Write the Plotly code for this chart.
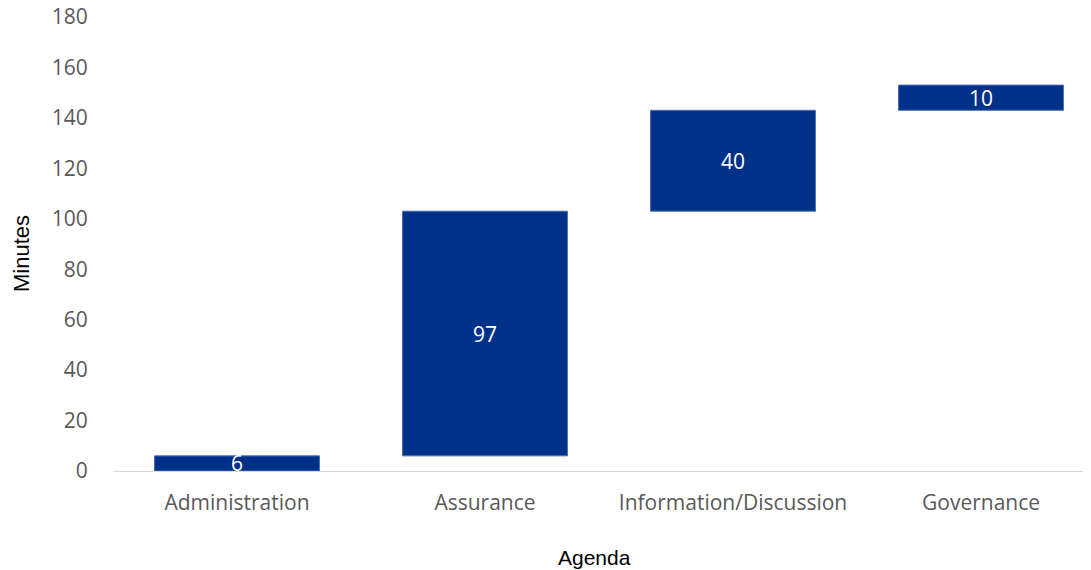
import plotly.graph_objects as go

categories = ["Administration", "Assurance", "Information/Discussion", "Governance"]
minutes = [6, 97, 40, 10]
y_ticks = [0, 20, 40, 60, 80, 100, 120, 140, 160, 180]

bar_color = "#003189"
edge_color = "#4a6fb8"

# page body has an 8px offset; plot area placed accordingly
PW = 1091 - 105

fig = go.Figure(go.Waterfall(
    x=categories,
    y=minutes,
    measure=["relative"] * len(minutes),
    text=[str(v) for v in minutes],
    textposition="inside",
    insidetextanchor="middle",
    textangle=0,
    constraintext="none",
    textfont=dict(color="white", size=21, family="Open Sans"),
    increasing=dict(marker=dict(color=bar_color, line=dict(color=edge_color, width=1))),
    connector=dict(visible=False),
    width=0.665,
    showlegend=False,
    hoverinfo="x+y",
    cliponaxis=False,
))

fig.update_layout(
    width=1091, height=570,
    margin=dict(l=105, r=0, t=9, b=107, autoexpand=False),
    plot_bgcolor="white", paper_bgcolor="white",
    font=dict(family="Open Sans", color="#595959", size=21),
    uniformtext=dict(mode=False),
    annotations=[
        dict(text="Agenda", xref="paper", yref="paper", x=(594 - 113) / PW, y=(471 - 557) / 454,
             showarrow=False, xanchor="center", yanchor="middle",
             font=dict(family="Liberation Sans", size=21, color="black")),
        dict(text="Minutes", xref="paper", yref="paper", x=(22 - 113) / PW, y=(471 - 254) / 454,
             showarrow=False, xanchor="center", yanchor="middle", textangle=-90,
             font=dict(family="Liberation Sans", size=22, color="black")),
    ],
)
fig.update_xaxes(
    range=[-0.5, -0.5 + PW / 248], automargin=False,
    showgrid=False, showline=True, linecolor="#d9d9d9", linewidth=1,
    ticks="outside", ticklen=13, tickcolor="rgba(0,0,0,0)",
    tickfont=dict(size=21, family="Open Sans", color="#595959"),
    ticklabeloverflow="allow",
)
fig.update_yaxes(
    range=[0, 180], tickvals=y_ticks, automargin=False,
    showgrid=False, showline=False, zeroline=False,
    ticks="outside", ticklen=20, tickcolor="rgba(0,0,0,0)",
    tickfont=dict(size=21, family="Open Sans", color="#595959"),
    ticklabeloverflow="allow",
)

fig.write_html("out.html")
